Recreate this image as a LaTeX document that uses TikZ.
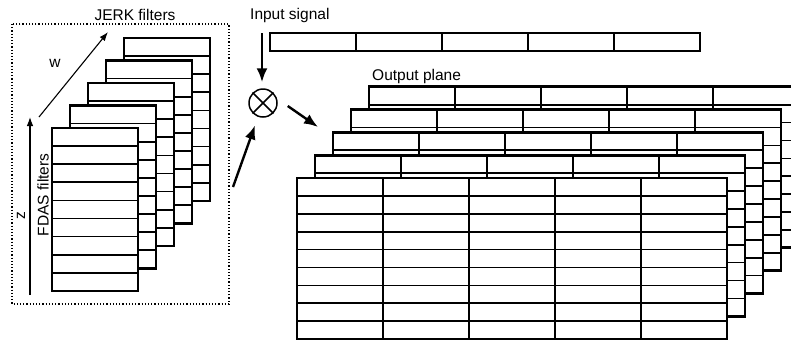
\documentclass[tikz,border=0pt]{standalone}
\usepackage{fontspec}
\setmainfont{Liberation Sans}
\usetikzlibrary{arrows.meta}

\begin{document}
\begin{tikzpicture}[x=1pt,y=-1pt,
    plane/.style={draw,fill=white,line width=2.8pt},
    cell/.style={line width=1.7pt},
    lbl/.style={font=\fontsize{15.5}{18}\selectfont,inner sep=0pt},
    bigarr/.style={line width=2.4pt,-{Latex[length=14pt,width=11pt]}},
    thinarr/.style={line width=1.1pt,-{Latex[length=9pt,width=6.5pt]}}]

    \useasboundingbox (0,0) rectangle (791,341);
    \clip (0,0) rectangle (791,341);

    % JERK / FDAS filter bank
    \draw[dotted,line width=1.2pt] (12,24) rectangle (229,304);
    \node[lbl] (jerk) at (135,15) {JERK filters};

    \foreach \i in {4,3,2,1,0} {
        \draw[plane] (52+18*\i,128-22.5*\i) rectangle +(86,163);
        \foreach \k in {1,...,8}
            \draw[cell] (52+18*\i,128-22.5*\i+18.1*\k) -- +(86,0);
    }

    \coordinate (zbot) at (30,295);
    \coordinate (ztop) at (30,117);
    \draw[thinarr] (zbot) -- (ztop);
    \node[lbl,rotate=90] (zlbl) at (21,216) {z};
    \node[lbl,rotate=90] (fdas) at (43,195) {FDAS filters};

    \coordinate (wbot) at (39,117);
    \coordinate (wtop) at (108,32);
    \draw[thinarr] (wbot) -- (wtop);
    \node[lbl] (wlbl) at (55,63) {w};

    % input signal
    \node[lbl,anchor=west] (insig) at (250,15) {Input signal};
    \draw[plane,line width=2pt] (270,33) rectangle (700,51);
    \foreach \k in {1,...,4}
        \draw[cell] (270+86*\k,33) -- +(0,18);

    % multiply
    \node[circle,draw,line width=1.5pt,minimum size=28pt,inner sep=0pt] (mult) at (263,103) {};
    \draw[line width=1.5pt] (mult.north west) -- (mult.south east);
    \draw[line width=1.5pt] (mult.north east) -- (mult.south west);

    \coordinate (sigtop) at (262,33);
    \draw[bigarr,shorten >=6pt] (sigtop) -- (sigtop |- mult.north);

    \coordinate (ftail) at (233,187);
    \draw[bigarr,shorten >=9pt] (ftail) -- (mult);

    \coordinate (outtip) at (318,127);
    \draw[bigarr] ([shift={(10,3)}]mult.east) -- (outtip);

    % output planes
    \node[lbl,anchor=west] (outlbl) at (372,76) {Output plane};
    \foreach \i in {4,3,2,1,0} {
        \draw[plane] (297+18*\i,178-22.8*\i) rectangle +(430,161);
        \foreach \k in {1,...,8}
            \draw[cell] (297+18*\i,178-22.8*\i+17.9*\k) -- +(430,0);
        \foreach \k in {1,...,4}
            \draw[cell] (297+18*\i+86*\k,178-22.8*\i) -- +(0,161);
    }

\end{tikzpicture}
\end{document}
